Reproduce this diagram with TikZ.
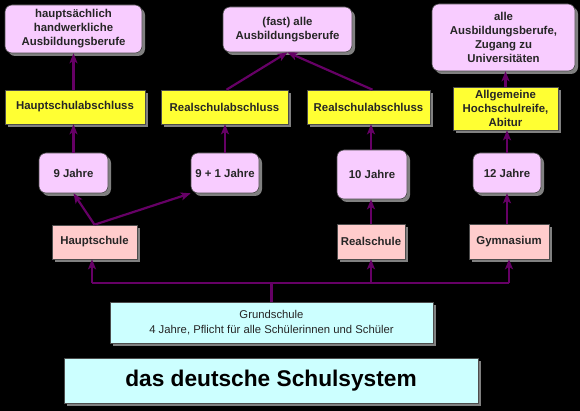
\documentclass[tikz,border=0pt]{standalone}
\usepackage{fontspec}
\setmainfont{Liberation Sans}
\usetikzlibrary{shadows,arrows.meta}
\definecolor{pinkbox}{HTML}{F8CCFF}
\definecolor{yelbox}{HTML}{FFFF33}
\definecolor{salbox}{HTML}{FFCCCC}
\definecolor{cyanbox}{HTML}{CCFFFF}
\definecolor{lineP}{HTML}{660066}
\begin{document}
\begin{tikzpicture}[x=1pt,y=-1pt,
  base/.style={draw=black!70, line width=0.6pt,
    drop shadow={shadow xshift=3pt, shadow yshift=-3pt, fill=black!50, opacity=1},
    font=\bfseries\fontsize{11.4}{14}\selectfont, align=center, inner sep=0pt, text=black!85},
  pinkr/.style={base, fill=pinkbox, rounded corners=7pt},
  yel/.style={base, fill=yelbox},
  sal/.style={base, fill=salbox},
  cyn/.style={base, fill=cyanbox},
  conn/.style={draw=lineP, line width=2.2pt},
  arr/.style={conn, -{Stealth[length=10pt,width=8pt,inset=2.5pt]}}]
\fill[black] (0,0) rectangle (580,411);
\useasboundingbox (0,0) rectangle (580,411);

% top targets
\node[pinkr, minimum width=137pt, minimum height=48pt] (hb) at (73.5,29) {hauptsächlich\\handwerkliche\\Ausbildungsberufe};
\node[pinkr, minimum width=129pt, minimum height=45pt] (fa) at (287.5,29.5) {(fast) alle\\Ausbildungsberufe};
\node[pinkr, minimum width=143pt, minimum height=67pt] (aa) at (503.5,37.5) {alle\\Ausbildungsberufe,\\Zugang zu\\Universitäten};

% certificates
\node[yel, minimum width=140pt, minimum height=34pt] (hsa) at (75,107) {Hauptschulabschluss};
\node[yel, minimum width=127pt, minimum height=34pt] (rsa1) at (224.5,107) {Realschulabschluss};
\node[yel, minimum width=123pt, minimum height=34pt] (rsa2) at (368.5,107) {Realschulabschluss};
\node[yel, minimum width=105pt, minimum height=43pt] (ahr) at (505.5,108.5) {Allgemeine\\Hochschulreife,\\Abitur};

% years
\node[pinkr, minimum width=69pt, minimum height=40pt] (j9) at (73.5,173) {9 Jahre};
\node[pinkr, minimum width=68pt, minimum height=40pt] (j91) at (225,173) {9 + 1 Jahre};
\node[pinkr, minimum width=70pt, minimum height=49pt] (j10) at (372,174.5) {10 Jahre};
\node[pinkr, minimum width=68pt, minimum height=40pt] (j12) at (507,173) {12 Jahre};

% schools
\node[sal, minimum width=85pt, minimum height=34pt] (hs) at (94.5,242) {Hauptschule};
\node[sal, minimum width=68pt, minimum height=35pt] (rs) at (371,241.5) {Realschule};
\node[sal, minimum width=80pt, minimum height=35pt] (gy) at (509,241.5) {Gymnasium};

% Grundschule and title
\node[cyn, minimum width=323pt, minimum height=41pt, font=\fontsize{11.3}{15}\selectfont] (gs) at (271.5,322.5) {Grundschule\\4 Jahre, Pflicht für alle Schülerinnen und Schüler};
\node[cyn, minimum width=414pt, minimum height=45pt, font=\bfseries\fontsize{22.7}{26}\selectfont, text=black] (ti) at (271,380.5) {das deutsche Schulsystem};

% connectors
\coordinate (bl) at (92,283);
\coordinate (br) at (509,283);
\draw[conn] (bl) -- (br);
\draw[conn] (gs.north) -- (gs.north |- bl);
\draw[arr] (bl) -- (bl |- hs.south);
\draw[arr] (rs.south |- bl) -- (rs.south);
\draw[arr] (br) -- (br |- gy.south);

\draw[arr] (hs.north) -- (j9.south);
\draw[arr] (hs.north) -- (j91.south west);
\draw[arr] (rs.north) -- (rs.north |- j10.south);
\draw[arr] (gy.north -| j12.south) -- (j12.south);

\draw[arr] (j9.north) -- (j9.north |- hsa.south);
\draw[arr] (j91.north) -- (j91.north |- rsa1.south);
\draw[arr] (j10.north -| rs.north) -- (rs.north |- rsa2.south);
\draw[arr] (j12.north) -- (j12.north |- ahr.south);

\draw[arr] (hsa.north -| hb.south) -- (hb.south);
\draw[arr] ([xshift=2pt]rsa1.north) -- (fa.south);
\draw[arr] ([xshift=4pt]rsa2.north) -- (fa.south);
\draw[arr] (ahr.north) -- (ahr.north |- aa.south);
\end{tikzpicture}
\end{document}
